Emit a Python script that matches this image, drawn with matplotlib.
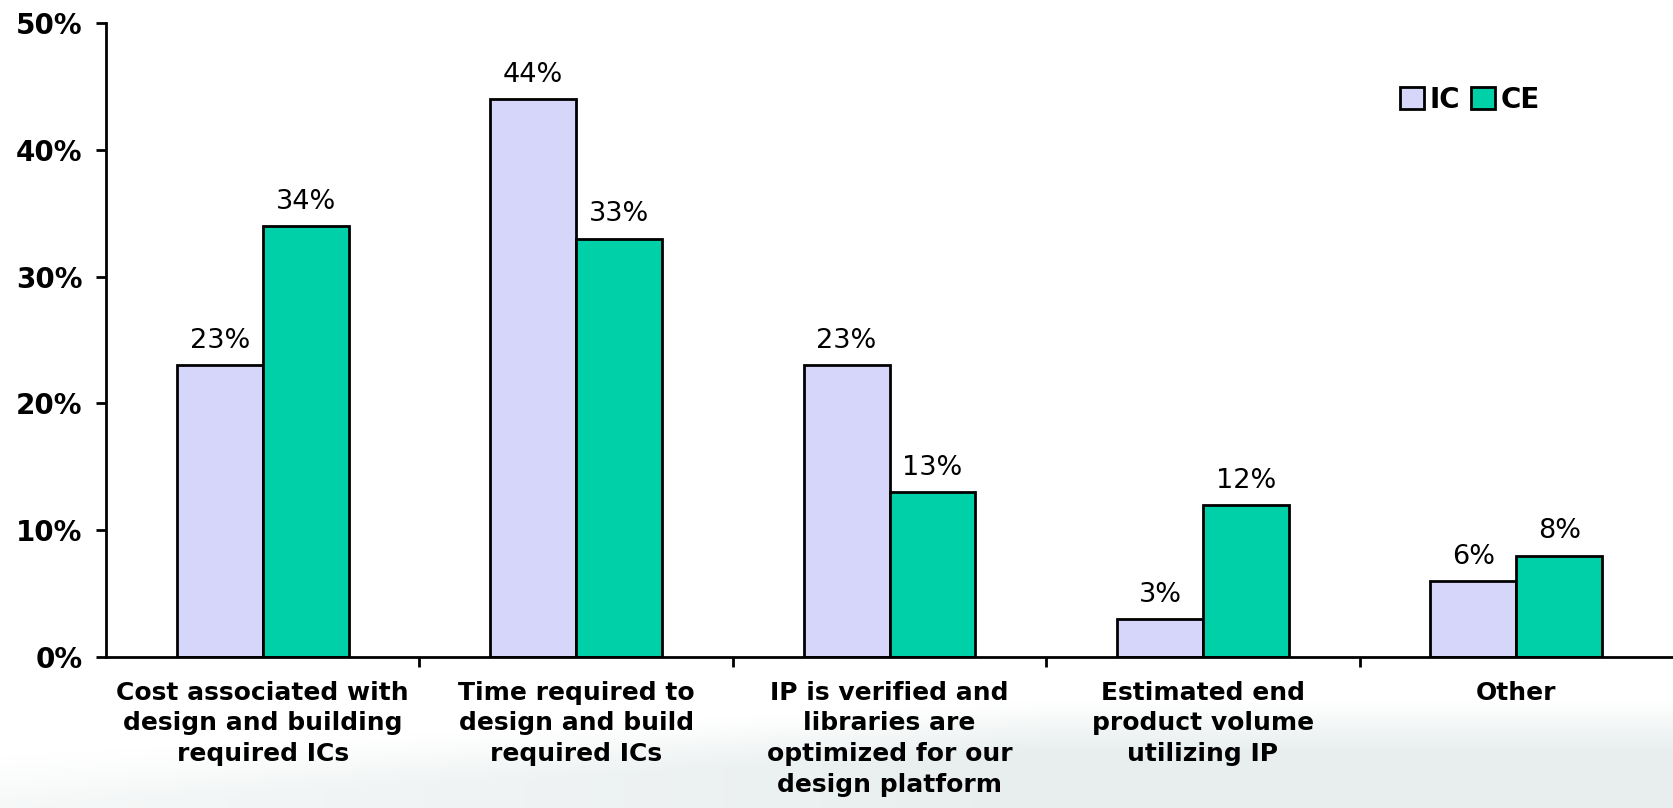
import matplotlib.pyplot as plt
import numpy as np

categories = ['Cost associated with\ndesign and building\nrequired ICs',
              'Time required to\ndesign and build\nrequired ICs',
              'IP is verified and\nlibraries are\noptimized for our\ndesign platform',
              'Estimated end\nproduct volume\nutilizing IP',
              'Other']
ic_values = [23, 44, 23, 3, 6]
ce_values = [34, 33, 13, 12, 8]
y_ticks = [0, 10, 20, 30, 40, 50]

fig = plt.figure(figsize=(16.73, 8.08), dpi=100)

# faint decorative swoosh behind the chart
bg = fig.add_axes([0, 0, 1, 1], zorder=0)
yy, xx = np.mgrid[0:1:300j, 0:1:600j]
curve = 0.06 + 0.07 * np.clip(xx * 1.6, 0, 1)
band = np.clip((curve - yy) / 0.06, 0, 1) * np.clip(0.4 + xx, 0, 1)
img = np.ones((300, 600, 3))
tint = np.array([0.84, 0.88, 0.88])
img = img * (1 - band[..., None] * 0.55) + tint * band[..., None] * 0.55
bg.imshow(img, origin='lower', extent=[0, 1, 0, 1], aspect='auto')
bg.axis('off')

ax = fig.add_axes([106 / 1673, 1 - 657 / 808, 1 - 106 / 1673, (657 - 23) / 808], zorder=1)
ax.patch.set_alpha(0)

x = np.arange(len(categories))
w = 0.274
b1 = ax.bar(x - w / 2, ic_values, w, color='#D6D6FA', edgecolor='black', linewidth=2, label='IC')
b2 = ax.bar(x + w / 2, ce_values, w, color='#00D0A8', edgecolor='black', linewidth=2, label='CE')

for bars, vals in [(b1, ic_values), (b2, ce_values)]:
    for rect, v in zip(bars, vals):
        ax.annotate(f'{v}%', (rect.get_x() + rect.get_width() / 2, v),
                    xytext=(0, 8), textcoords='offset points',
                    ha='center', va='bottom', fontsize=19.5)

ax.set_xlim(-0.5, 4.5)
ax.set_ylim(0, 50)
ax.set_yticks(y_ticks)
ax.set_yticklabels([f'{t}%' for t in y_ticks], fontsize=20, fontweight='bold')
ax.set_xticks(np.arange(0.5, 4.5, 1))
ax.set_xticklabels([])
ax.set_xticks(x, minor=True)
ax.set_xticklabels(categories, minor=True, fontsize=18, fontweight='bold', linespacing=1.36)
ax.tick_params(axis='x', which='minor', length=0, pad=17)
ax.tick_params(axis='x', which='major', length=7, width=2, direction='out')
ax.tick_params(axis='y', length=7, width=2, pad=10)
ax.spines['top'].set_visible(False)
ax.spines['right'].set_visible(False)
ax.spines['left'].set_linewidth(2)
ax.spines['bottom'].set_linewidth(2)

leg = ax.legend(loc='upper left', bbox_to_anchor=(0.81, 0.94), ncol=2, frameon=False,
                prop={'size': 20, 'weight': 'bold'}, handlelength=0.85, handleheight=0.85,
                handletextpad=0.2, columnspacing=0.4)

fig.savefig('out.png', dpi=100)
